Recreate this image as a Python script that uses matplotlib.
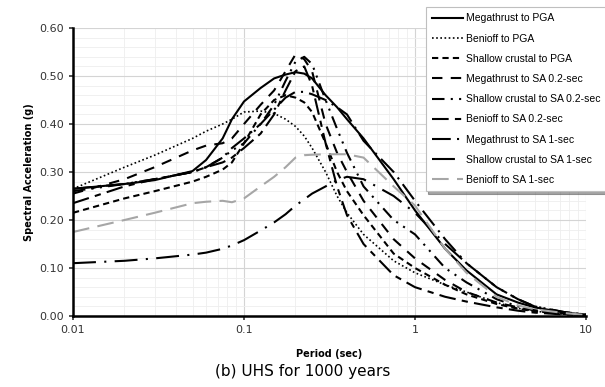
import matplotlib.pyplot as plt
from matplotlib.ticker import NullFormatter, MultipleLocator

periods = [0.01, 0.02, 0.03, 0.05, 0.06, 0.075, 0.085, 0.1, 0.125, 0.15, 0.175,
           0.2, 0.225, 0.25, 0.3, 0.35, 0.4, 0.5, 0.75, 1.0, 1.5, 2.0, 3.0,
           4.0, 5.0, 7.5, 10.0]

mega_pga = [0.265, 0.275, 0.283, 0.302, 0.325, 0.37, 0.41, 0.447, 0.475, 0.495, 0.503,
            0.508, 0.505, 0.495, 0.46, 0.435, 0.41, 0.37, 0.285, 0.22, 0.14, 0.095, 0.045,
            0.028, 0.018, 0.007, 0.003]
beni_pga = [0.265, 0.31, 0.335, 0.37, 0.385, 0.40, 0.41, 0.425, 0.427, 0.422, 0.41,
            0.395, 0.375, 0.35, 0.30, 0.25, 0.215, 0.17, 0.115, 0.09, 0.065, 0.05, 0.028,
            0.016, 0.01, 0.004, 0.002]
shal_pga = [0.215, 0.245, 0.26, 0.28, 0.29, 0.305, 0.32, 0.36, 0.42, 0.45, 0.46,
            0.455, 0.445, 0.425, 0.36, 0.30, 0.26, 0.21, 0.13, 0.10, 0.065, 0.045, 0.025,
            0.015, 0.01, 0.004, 0.001]
mega_02 = [0.255, 0.285, 0.31, 0.345, 0.355, 0.36, 0.37, 0.40, 0.44, 0.47, 0.51,
           0.545, 0.535, 0.51, 0.40, 0.34, 0.30, 0.24, 0.16, 0.12, 0.075, 0.05, 0.028,
           0.018, 0.012, 0.005, 0.002]
shal_02 = [0.26, 0.275, 0.285, 0.30, 0.31, 0.33, 0.345, 0.36, 0.40, 0.44, 0.49,
           0.53, 0.54, 0.525, 0.45, 0.39, 0.34, 0.27, 0.20, 0.17, 0.10, 0.07, 0.035,
           0.02, 0.012, 0.005, 0.002]
beni_02 = [0.235, 0.27, 0.285, 0.30, 0.31, 0.32, 0.33, 0.35, 0.38, 0.42, 0.47,
           0.51, 0.52, 0.48, 0.36, 0.27, 0.21, 0.15, 0.085, 0.06, 0.04, 0.03, 0.018,
           0.011, 0.007, 0.003, 0.001]
mega_1s = [0.265, 0.275, 0.285, 0.30, 0.31, 0.33, 0.35, 0.37, 0.40, 0.43, 0.455,
           0.467, 0.467, 0.462, 0.45, 0.435, 0.42, 0.365, 0.30, 0.24, 0.16, 0.11, 0.06,
           0.035, 0.02, 0.008, 0.003]
shal_1s = [0.11, 0.115, 0.12, 0.128, 0.132, 0.14, 0.147, 0.158, 0.178, 0.195, 0.212,
           0.23, 0.243, 0.255, 0.27, 0.283, 0.29, 0.285, 0.25, 0.215, 0.15, 0.11, 0.06,
           0.035, 0.02, 0.008, 0.003]
beni_1s = [0.175, 0.20, 0.215, 0.235, 0.238, 0.24, 0.237, 0.245, 0.27, 0.29, 0.31,
           0.33, 0.335, 0.336, 0.337, 0.337, 0.337, 0.33, 0.27, 0.23, 0.14, 0.09, 0.04,
           0.022, 0.014, 0.006, 0.002]

labels = ['Megathrust to PGA', 'Benioff to PGA', 'Shallow crustal to PGA',
          'Megathrust to SA 0.2-sec', 'Shallow crustal to SA 0.2-sec',
          'Benioff to SA 0.2-sec', 'Megathrust to SA 1-sec',
          'Shallow crustal to SA 1-sec', 'Benioff to SA 1-sec']
series = [mega_pga, beni_pga, shal_pga, mega_02, shal_02, beni_02,
          mega_1s, shal_1s, beni_1s]
styles = ['-', (0, (1, 1.5)), (0, (3, 2)), (0, (5, 4)), (0, (6, 3, 1, 3, 1, 3)),
          (0, (8, 3, 3, 3)), (0, (9, 3, 1, 3)), (0, (11, 4, 1, 4)), (0, (8, 4))]
colors = ['black'] * 8 + ['#a6a6a6']
widths = [1.5, 1.2, 1.5, 1.5, 1.5, 1.5, 1.5, 1.5, 1.5]

fig = plt.figure(figsize=(6.05, 3.87), dpi=100)
ax = fig.add_axes([0.1207, 0.1835, 0.8479, 0.7441])

for vals, lab, ls, c, lw in zip(series, labels, styles, colors, widths):
    ax.plot(periods, vals, linestyle=ls, color=c, lw=lw, label=lab)

ax.set_xscale('log')
ax.set_xlim(0.01, 10)
ax.set_ylim(0, 0.6)
ax.yaxis.set_major_locator(MultipleLocator(0.1))
ax.yaxis.set_minor_locator(MultipleLocator(0.02))
ax.set_yticklabels([f'{v:.2f}' for v in ax.get_yticks()])
ax.set_xticks([0.01, 0.1, 1, 10])
ax.set_xticklabels(['0.01', '0.1', '1', '10'])
ax.xaxis.set_minor_formatter(NullFormatter())

ax.grid(which='major', color='#d4d4d4', lw=0.8)
ax.grid(which='minor', color='#eeeeee', lw=0.6)
ax.set_axisbelow(True)
for s in ['top', 'right']:
    ax.spines[s].set_visible(False)
for s in ['left', 'bottom']:
    ax.spines[s].set_linewidth(1.8)
ax.tick_params(which='major', length=3, width=1.2, labelsize=8, colors='#333333')
ax.tick_params(which='minor', length=0)

ax.set_ylabel('Spectral Acceleration (g)', fontsize=7, fontweight='bold')
ax.set_xlabel('Period (sec)', fontsize=7, fontweight='bold', labelpad=10)
fig.text(0.50, 0.04, '(b) UHS for 1000 years', ha='center', va='center', fontsize=11)

leg = fig.legend(loc='upper left', bbox_to_anchor=(0.695, 0.995),
                 prop={'family': 'Liberation Sans', 'size': 7.5},
                 handlelength=3.0, handletextpad=0.3, labelspacing=0.98,
                 frameon=True, fancybox=False, shadow=True, borderpad=0.6)
leg.get_frame().set_edgecolor('#bfbfbf')
leg.get_frame().set_linewidth(0.8)

fig.savefig('out.png', dpi=100)
